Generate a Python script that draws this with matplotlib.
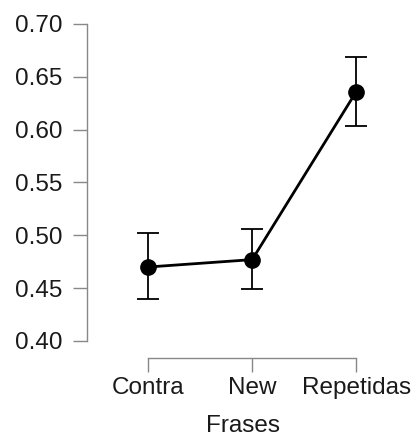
import matplotlib
matplotlib.use("Agg")
import matplotlib.pyplot as plt

# descriptives: mean and 95% CI per condition
categories = ["Contra", "New", "Repetidas"]
means = [0.470, 0.477, 0.636]
ci_low = [0.440, 0.449, 0.603]
ci_high = [0.502, 0.506, 0.669]
yticks = [0.40, 0.45, 0.50, 0.55, 0.60, 0.65, 0.70]

plt.rcParams['font.family'] = ['Liberation Sans', 'DejaVu Sans']

fig = plt.figure(figsize=(4.13, 4.45), dpi=100)
W, H = 413, 445
# axes box in pixels: left 87, right 400, top 10, bottom 358
ax = fig.add_axes([87 / W, 1 - 358 / H, (400 - 87) / W, (358 - 10) / H])

x = list(range(len(categories)))
err_lo = [m - l for m, l in zip(means, ci_low)]
err_hi = [h - m for m, h in zip(means, ci_high)]

ax.plot(x, means, color="black", lw=2.0, zorder=2)
ax.errorbar(x, means, yerr=[err_lo, err_hi], fmt="none", ecolor="black",
            elinewidth=1.3, capsize=7.8, capthick=1.3, zorder=1)
ax.plot(x, means, "o", color="black", markersize=11, zorder=3)

ax.set_xlim(-0.587, 2.42)
ax.set_ylim(0.3839, 0.7132)

for s in ["top", "right"]:
    ax.spines[s].set_visible(False)
for s in ["left", "bottom"]:
    ax.spines[s].set_color("#888888")
    ax.spines[s].set_linewidth(1.0)
ax.spines["left"].set_bounds(0.40, 0.70)
ax.spines["bottom"].set_bounds(0, 2)

ax.set_yticks(yticks)
ax.set_yticklabels([f"{v:.2f}" for v in yticks])
ax.set_xticks(x)
ax.set_xticklabels(categories)
ax.tick_params(axis="both", length=10, width=1.0, color="#888888",
               labelsize=17.5, labelcolor="#1a1a1a")
ax.tick_params(axis="x", pad=4)
ax.tick_params(axis="y", pad=8)

ax.set_xlabel("Frases", fontsize=17.5, color="#1a1a1a", labelpad=11)

fig.savefig("out.png", dpi=100)
